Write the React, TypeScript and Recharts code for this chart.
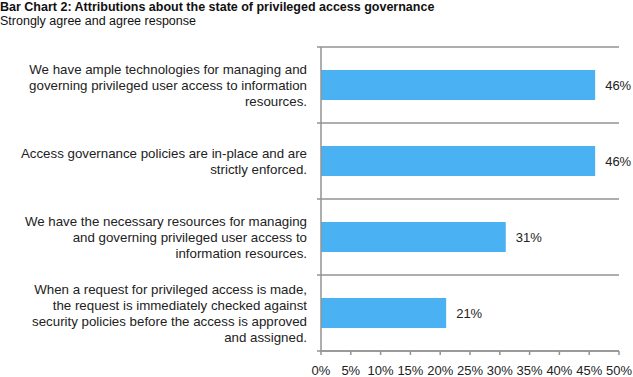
import React from "react";
import { BarChart, Bar, XAxis, YAxis, CartesianGrid, LabelList } from "recharts";

const categories = [
  "We have ample technologies for managing and\ngoverning privileged user access to information\nresources.",
  "Access governance policies are in-place and are\nstrictly enforced.",
  "We have the necessary resources for managing\nand governing privileged user access to\ninformation resources.",
  "When a request for privileged access is made,\nthe request is immediately checked against\nsecurity policies before the access is approved\nand assigned.",
];
const values = [46, 46, 31, 21];
const xTicks = [0, 5, 10, 15, 20, 25, 30, 35, 40, 45, 50];

const data = categories.map((c, i) => ({ name: c, value: values[i] }));

const FONT = "'Liberation Sans', Arial, sans-serif";
const GRID = "#939393";

const CatTick = (props: any) => {
  const { x, y, payload, height, visibleTicksCount, index } = props;
  const lines: string[] = String(payload.value).split("\n");
  const lh = 16.3;
  const start = y - ((lines.length - 1) * lh) / 2;
  const n = visibleTicksCount || categories.length;
  const band = (height || 0) / n;
  const axisX = x;
  return (
    <g>
      <line x1={axisX - 4} x2={axisX} y1={y - band / 2} y2={y - band / 2} stroke={GRID} strokeWidth={1.5} />
      {index === n - 1 ? (
        <line x1={axisX - 4} x2={axisX} y1={y + band / 2} y2={y + band / 2} stroke={GRID} strokeWidth={1.5} />
      ) : null}
      <text x={axisX - 14} y={start} textAnchor="end" fontFamily={FONT} fontSize={13.3} fill="#222" dominantBaseline="central">
        {lines.map((l, i) => (
          <tspan key={i} x={axisX - 14} y={start + i * lh}>
            {l}
          </tspan>
        ))}
      </text>
    </g>
  );
};

export default function App() {
  return (
    <div style={{ position: "absolute", left: 0, top: 0, width: 633, height: 377, background: "#fff", fontFamily: FONT }}>
      <div style={{ position: "absolute", left: 0, top: 0, fontSize: 12.5, fontWeight: "bold", color: "#111", lineHeight: "15px" }}>
        Bar Chart 2: Attributions about the state of privileged access governance
      </div>
      <div style={{ position: "absolute", left: 0, top: 14, fontSize: 12.5, color: "#111", lineHeight: "15px" }}>
        Strongly agree and agree response
      </div>
      <div style={{ position: "absolute", left: 0, top: 0 }}>
        <BarChart
          width={633}
          height={377}
          data={data}
          layout="vertical"
          margin={{ top: 47, right: 14, bottom: 0, left: 0 }}
        >
          <CartesianGrid
            vertical={false}
            stroke={GRID}
            strokeWidth={1.5}
            strokeDasharray=""
            horizontalCoordinatesGenerator={({ offset }: any) =>
              categories.map((_, i) => offset.top + (offset.height * i) / categories.length).concat([offset.top + offset.height])
            }
          />
          <YAxis
            type="category"
            dataKey="name"
            width={321}
            tickLine={false}
            tickSize={0}
            tickMargin={0}
            axisLine={{ stroke: GRID, strokeWidth: 1.5 }}
            tick={<CatTick />}
            interval={0}
          />
          <XAxis
            type="number"
            domain={[0, 50]}
            ticks={xTicks}
            tickFormatter={(v: number) => `${v}%`}
            tickSize={4}
            tickMargin={11}
            height={26}
            interval={0}
            tickLine={{ stroke: GRID, strokeWidth: 1.5 }}
            axisLine={{ stroke: GRID, strokeWidth: 1.5 }}
            tick={{ fontSize: 13, fill: "#222", fontFamily: FONT }}
          />
          <Bar dataKey="value" fill="#4AB2F3" barSize={30} isAnimationActive={false}>
            <LabelList
              dataKey="value"
              position="right"
              offset={10}
              formatter={(v: any) => `${v}%`}
              style={{ fontSize: 13, fill: "#222", fontFamily: FONT }}
            />
          </Bar>
        </BarChart>
      </div>
    </div>
  );
}
